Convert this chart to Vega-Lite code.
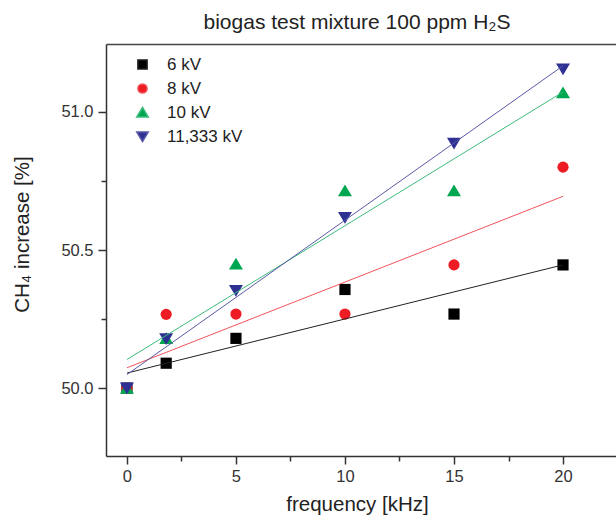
{
  "$schema": "https://vega.github.io/schema/vega-lite/v6.json",
  "width": 510,
  "height": 412,
  "autosize": "none",
  "padding": {"left": 106, "top": 44, "right": 0, "bottom": 59},
  "background": "white",
  "title": {"text": "biogas test mixture 100 ppm H₂S", "font": "Liberation Sans", "fontSize": 21, "fontWeight": "normal", "color": "#222", "offset": 11, "dx": -4},
  "config": {"view": {"stroke": null}, "font": "Liberation Sans"},
  "data": {"values": [
    {"series": "6 kV", "f": 0, "ch4": 50.0},
    {"series": "6 kV", "f": 1.8, "ch4": 50.09},
    {"series": "6 kV", "f": 5, "ch4": 50.18},
    {"series": "6 kV", "f": 10, "ch4": 50.357},
    {"series": "6 kV", "f": 15, "ch4": 50.268},
    {"series": "6 kV", "f": 20, "ch4": 50.446},
    {"series": "8 kV", "f": 0, "ch4": 50.0},
    {"series": "8 kV", "f": 1.8, "ch4": 50.267},
    {"series": "8 kV", "f": 5, "ch4": 50.268},
    {"series": "8 kV", "f": 10, "ch4": 50.268},
    {"series": "8 kV", "f": 15, "ch4": 50.446},
    {"series": "8 kV", "f": 20, "ch4": 50.8},
    {"series": "10 kV", "f": 0, "ch4": 50.0},
    {"series": "10 kV", "f": 1.8, "ch4": 50.18},
    {"series": "10 kV", "f": 5, "ch4": 50.45},
    {"series": "10 kV", "f": 10, "ch4": 50.715},
    {"series": "10 kV", "f": 15, "ch4": 50.715},
    {"series": "10 kV", "f": 20, "ch4": 51.07},
    {"series": "11,333 kV", "f": 0, "ch4": 50.0},
    {"series": "11,333 kV", "f": 1.8, "ch4": 50.178},
    {"series": "11,333 kV", "f": 5, "ch4": 50.353},
    {"series": "11,333 kV", "f": 10, "ch4": 50.617},
    {"series": "11,333 kV", "f": 15, "ch4": 50.886},
    {"series": "11,333 kV", "f": 20, "ch4": 51.155}
  ]},
  "layer": [
    {
      "mark": {"type": "point", "filled": true, "opacity": 1, "size": 125},
      "encoding": {
        "x": {"field": "f", "type": "quantitative",
              "scale": {"domain": [-0.96, 22.43], "nice": false, "zero": false},
              "axis": {"orient": "bottom", "values": [0, 2.5, 5, 7.5, 10, 12.5, 15, 17.5, 20],
                       "labelExpr": "datum.value % 5 === 0 ? datum.label : ''",
                       "tickSize": {"condition": {"test": "datum.value % 5 === 0", "value": 8}, "value": 5},
                       "grid": false, "domainColor": "#333", "domainWidth": 1.5, "tickColor": "#333", "tickWidth": 1.5,
                       "labelFontSize": 16.5, "labelColor": "#333", "labelPadding": 4, "labelFont": "Liberation Sans",
                       "title": "frequency [kHz]", "titleFontSize": 20.5, "titleFontWeight": "normal", "titleColor": "#222", "titleFont": "Liberation Sans",
                       "titleX": 251, "titleY": 54, "titleBaseline": "alphabetic", "titleAlign": "center"}},
        "y": {"field": "ch4", "type": "quantitative",
              "scale": {"domain": [49.754, 51.246], "nice": false, "zero": false},
              "axis": {"orient": "left", "values": [50, 50.25, 50.5, 50.75, 51],
                       "labelExpr": "datum.value === 50 || datum.value === 50.5 || datum.value === 51 ? format(datum.value, '.1f') : ''",
                       "tickSize": {"condition": {"test": "datum.value === 50 || datum.value === 50.5 || datum.value === 51", "value": 8}, "value": 5},
                       "grid": false, "domainColor": "#333", "domainWidth": 1.5, "tickColor": "#333", "tickWidth": 1.5,
                       "labelFontSize": 16.5, "labelColor": "#333", "labelPadding": 5, "labelFont": "Liberation Sans",
                       "title": "CH₄ increase [%]", "titleFontSize": 20.5, "titleFontWeight": "normal", "titleColor": "#222", "titleFont": "Liberation Sans",
                       "titleX": -78, "titleY": 190, "titleAngle": -90, "titleBaseline": "alphabetic", "titleAlign": "center"}},
        "color": {"field": "series", "type": "nominal",
                  "scale": {"domain": ["6 kV", "8 kV", "10 kV", "11,333 kV"], "range": ["#000000", "#ed1c24", "#00a650", "#2e3192"]},
                  "legend": {"title": null, "orient": "none", "legendX": 28, "legendY": 12, "labelFontSize": 17, "labelFont": "Liberation Sans", "labelColor": "#222", "symbolSize": 85, "symbolOpacity": 1, "rowPadding": 6, "labelOffset": 16, "padding": 0}},
        "shape": {"field": "series", "type": "nominal",
                  "scale": {"domain": ["6 kV", "8 kV", "10 kV", "11,333 kV"], "range": ["square", "circle", "M0,-1.1L1.25,1L-1.25,1Z", "M0,1.1L1.25,-1L-1.25,-1Z"]},
                  "legend": {"title": null, "orient": "none", "legendX": 28, "legendY": 12, "labelFontSize": 17, "labelFont": "Liberation Sans", "labelColor": "#222", "symbolSize": 85, "symbolOpacity": 1, "rowPadding": 6, "labelOffset": 16, "padding": 0}}
      }
    },
    {
      "transform": [{"regression": "ch4", "on": "f", "groupby": ["series"]}],
      "mark": {"type": "line", "strokeWidth": 1},
      "encoding": {
        "x": {"field": "f", "type": "quantitative",
              "axis": {"orient": "top", "labels": false, "ticks": false, "title": null, "grid": false, "domain": true, "domainColor": "#444", "domainWidth": 1.5}},
        "y": {"field": "ch4", "type": "quantitative"},
        "stroke": {"field": "series", "type": "nominal",
                   "scale": {"domain": ["6 kV", "8 kV", "10 kV", "11,333 kV"], "range": ["#222222", "#f0555a", "#3dbb7d", "#5a5aa8"]},
                   "legend": null}
      }
    }
  ]
}
